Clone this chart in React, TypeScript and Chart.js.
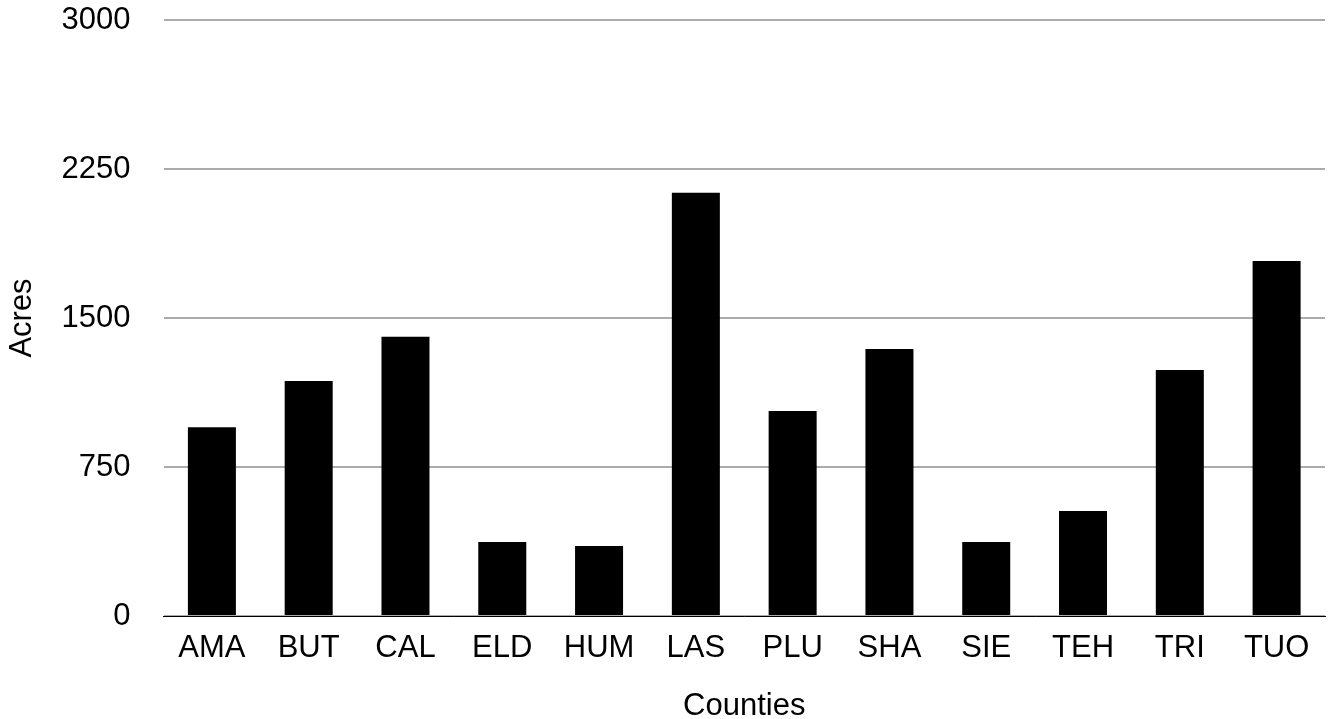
import React, { useEffect, useRef } from "react";
import { Chart, registerables } from "chart.js";

Chart.register(...registerables);

const categories = ["AMA", "BUT", "CAL", "ELD", "HUM", "LAS", "PLU", "SHA", "SIE", "TEH", "TRI", "TUO"];
const acres = [950, 1183, 1405, 372, 352, 2130, 1032, 1344, 372, 528, 1238, 1787];
const yTicks = [0, 750, 1500, 2250, 3000];
const xTitle = "Counties";
const yTitle = "Acres";

const FONT = "'Liberation Sans', Arial, Helvetica, sans-serif";

export default function App() {
  const ref = useRef<HTMLCanvasElement | null>(null);

  useEffect(() => {
    if (!ref.current) return;
    const chart = new Chart(ref.current, {
      type: "bar",
      data: {
        labels: categories,
        datasets: [
          {
            label: yTitle,
            data: acres,
            backgroundColor: "#000000",
            borderWidth: 0,
            categoryPercentage: 1,
            barPercentage: 0.496,
          },
        ],
      },
      options: {
        animation: false,
        responsive: false,
        maintainAspectRatio: false,
        layout: { padding: { left: 0, right: 6, top: 20, bottom: 0 } },
        plugins: {
          legend: { display: false },
          tooltip: { enabled: false },
        },
        scales: {
          x: {
            grid: { display: false, drawTicks: false },
            border: { display: true, color: "#000000", width: 1 },
            ticks: {
              color: "#000000",
              font: { family: FONT, size: 31 },
              padding: 14,
              maxRotation: 0,
              autoSkip: false,
            },
            title: {
              display: true,
              text: xTitle,
              color: "#000000",
              font: { family: FONT, size: 31, lineHeight: 0.8 },
              padding: 0,
            },
            afterFit: (s: any) => {
              s.height = 103;
              s.paddingLeft = 0;
              s.paddingRight = 0;
            },
          },
          y: {
            min: 0,
            max: 3000,
            afterBuildTicks: (s: any) => {
              s.ticks = yTicks.map((v) => ({ value: v }));
            },
            grid: { color: "#ababab", lineWidth: 2, drawTicks: false },
            border: { display: false },
            ticks: {
              color: "#000000",
              font: { family: FONT, size: 31 },
              padding: 33,
              callback: (v: any) => String(v),
            },
            title: {
              display: true,
              text: yTitle,
              color: "#000000",
              font: { family: FONT, size: 31, lineHeight: 1 },
              padding: { top: 7, bottom: 0 },
            },
            afterFit: (s: any) => {
              s.width = 163.5;
              s.paddingTop = 0;
              s.paddingBottom = 0;
            },
          },
        },
      },
    });
    return () => chart.destroy();
  }, []);

  return (
    <div style={{ position: "fixed", left: 0, top: 0, width: 1331, height: 719, background: "#fff" }}>
      <canvas ref={ref} width={1331} height={719} style={{ width: 1331, height: 719, display: "block" }} />
    </div>
  );
}
